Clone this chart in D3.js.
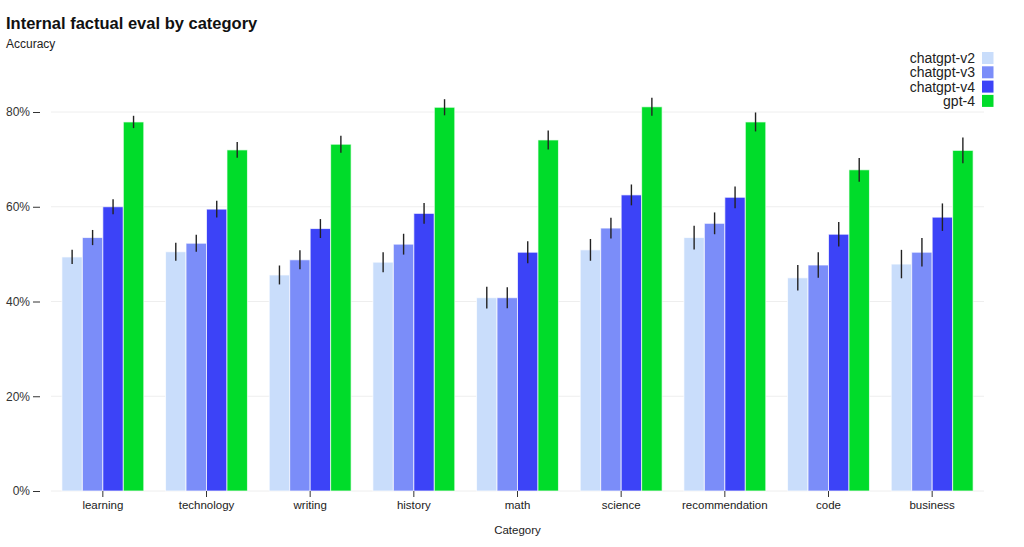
<!DOCTYPE html>
<html>
<head>
<meta charset="utf-8">
<script src="https://cdn.jsdelivr.net/npm/d3@7"></script>
<style>
  body { margin: 0; background: #fff; }
  svg { font-family: "Liberation Sans", Arial, sans-serif; }
</style>
</head>
<body>
<svg id="chart" width="1024" height="547"></svg>
<script>
// data
var categories = ["learning", "technology", "writing", "history", "math", "science", "recommendation", "code", "business"];
var seriesNames = ["chatgpt-v2", "chatgpt-v3", "chatgpt-v4", "gpt-4"];
var seriesColors = ["#c9ddfb", "#7b8df9", "#3c43f7", "#00dc2a"];

// accuracy in %, one array per model
var v2Values = [49.4, 50.5, 45.6, 48.3, 40.8, 50.9, 53.5, 45.0, 47.9];
var v3Values = [53.5, 52.3, 48.8, 52.1, 40.8, 55.5, 56.5, 47.7, 50.4];
var v4Values = [60.0, 59.5, 55.4, 58.6, 50.4, 62.5, 62.0, 54.2, 57.8];
var gpt4Values = [77.9, 72.0, 73.2, 81.0, 74.1, 81.1, 77.9, 67.8, 71.9];

// half length of the error bars, in %
var v2Err = [1.5, 1.9, 2.0, 2.1, 2.3, 2.3, 2.5, 2.7, 3.0];
var v3Err = [1.6, 1.8, 2.0, 2.2, 2.2, 2.2, 2.3, 2.7, 3.0];
var v4Err = [1.6, 1.75, 2.0, 2.2, 2.3, 2.2, 2.3, 2.6, 2.9];
var gpt4Err = [1.3, 1.65, 1.8, 1.7, 2.0, 1.9, 2.0, 2.5, 2.7];

var yTicks = [0, 20, 40, 60, 80];

var allValues = [v2Values, v3Values, v4Values, gpt4Values];
var allErr = [v2Err, v3Err, v4Err, gpt4Err];

var rows = [];
categories.forEach(function(c, i) {
  seriesNames.forEach(function(s, j) {
    rows.push({ cat: c, series: s, idx: j, value: allValues[j][i], err: allErr[j][i] });
  });
});

var svg = d3.select("#chart");
var left = 51, right = 984, bottom = 491;

var x = d3.scaleBand().domain(categories).range([left, right]).paddingInner(0.21).paddingOuter(0.105);
var xs = d3.scaleBand().domain(seriesNames).range([0, x.bandwidth()]);
var y = d3.scaleLinear().domain([0, 80]).range([bottom, 112]);
var color = d3.scaleOrdinal().domain(seriesNames).range(seriesColors);

// title
svg.append("text").attr("x", 6).attr("y", 29)
  .attr("font-size", 16.5).attr("font-weight", "bold").attr("fill", "#111")
  .text("Internal factual eval by category");
svg.append("text").attr("x", 6).attr("y", 48)
  .attr("font-size", 12).attr("fill", "#222")
  .text("Accuracy");

// grid
svg.append("g").selectAll("line").data(yTicks).enter().append("line")
  .attr("x1", left).attr("x2", right)
  .attr("y1", function(d) { return y(d); }).attr("y2", function(d) { return y(d); })
  .attr("stroke", "#eeeeee").attr("stroke-width", 1);

// y axis
var yAxis = d3.axisLeft(y).tickValues(yTicks).tickSize(7).tickPadding(3)
  .tickFormat(function(d) { return d + "%"; });
var yg = svg.append("g").attr("transform", "translate(40,0)").call(yAxis);
yg.select(".domain").remove();
yg.selectAll(".tick line").attr("stroke", "#333");
yg.selectAll(".tick text").attr("font-size", 12).attr("fill", "#333")
  .attr("font-family", "Liberation Sans, Arial, sans-serif");

// bars
svg.append("g").selectAll("rect").data(rows).enter().append("rect")
  .attr("x", function(d) { return x(d.cat) + xs(d.series); })
  .attr("width", xs.bandwidth())
  .attr("y", function(d) { return y(d.value); })
  .attr("height", function(d) { return y(0) - y(d.value); })
  .attr("fill", function(d) { return color(d.series); })
  .attr("stroke", "rgba(255,255,255,0.7)")
  .attr("stroke-width", 1);

// error bars
svg.append("g").selectAll("line").data(rows).enter().append("line")
  .attr("x1", function(d) { return x(d.cat) + xs(d.series) + xs.bandwidth() / 2; })
  .attr("x2", function(d) { return x(d.cat) + xs(d.series) + xs.bandwidth() / 2; })
  .attr("y1", function(d) { return y(d.value - d.err); })
  .attr("y2", function(d) { return y(d.value + d.err); })
  .attr("stroke", "#222").attr("stroke-width", 1.4);

// x axis
var xAxis = d3.axisBottom(x).tickSize(6).tickPadding(4);
var xg = svg.append("g").attr("transform", "translate(0," + bottom + ")").call(xAxis);
xg.select(".domain").remove();
xg.selectAll(".tick line").attr("stroke", "#333");
xg.selectAll(".tick text").attr("font-size", 11.5).attr("fill", "#222")
  .attr("font-family", "Liberation Sans, Arial, sans-serif");

svg.append("text").attr("x", (left + right) / 2).attr("y", 534)
  .attr("text-anchor", "middle").attr("font-size", 11.5).attr("fill", "#222")
  .text("Category");

// legend
var legend = svg.append("g").selectAll("g").data(seriesNames).enter().append("g")
  .attr("transform", function(d, i) { return "translate(0," + (58 + i * 14.3) + ")"; });
legend.append("rect").attr("x", 982).attr("y", -6).attr("width", 11.5).attr("height", 12)
  .attr("fill", function(d) { return color(d); });
legend.append("text").attr("x", 975).attr("y", 5)
  .attr("text-anchor", "end").attr("font-size", 14).attr("fill", "#222")
  .text(function(d) { return d; });
</script>
</body>
</html>
